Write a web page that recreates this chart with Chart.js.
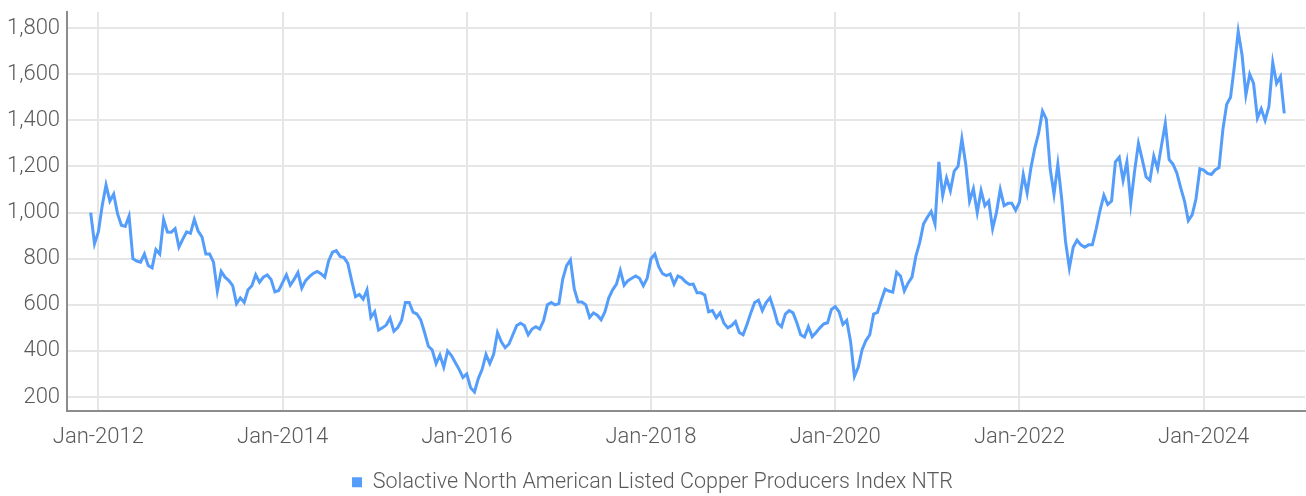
<!DOCTYPE html>
<html>
<head>
<meta charset="utf-8">
<script src="https://cdn.jsdelivr.net/npm/chart.js@4.4.1/dist/chart.umd.min.js"></script>
<style>
  html, body { margin: 0; padding: 0; background: #fff; }
  #wrap { width: 1306px; height: 496px; }
</style>
</head>
<body>
<div id="wrap"><canvas id="chart" width="1306" height="496"></canvas></div>
<script>
// series: one reading every half month, starting 1 Dec 2011
const seriesName = 'Solactive North American Listed Copper Producers Index NTR';
const startYear = 2011;
const startMonth = 12;
const values = [
  1000, 865,                                                                   // 2011
  916, 1030, 1120, 1050, 1080, 995, 945, 940, 985, 800, 790, 785,              // 2012
  820, 770, 760, 840, 820, 970, 916, 915, 930, 850, 885, 916,
  910, 970, 920, 895, 820, 820, 785, 660, 745, 720, 705, 683,                  // 2013
  605, 630, 610, 665, 683, 730, 698, 720, 730, 710, 656, 662,
  696, 730, 685, 710, 740, 672, 705, 722, 736, 745, 735, 720,                  // 2014
  790, 828, 835, 810, 805, 780, 705, 635, 645, 625, 665, 545,
  570, 490, 500, 512, 542, 485, 501, 532, 610, 610, 568, 560,                  // 2015
  535, 480, 420, 404, 345, 382, 330, 400, 380, 350, 320, 285,
  300, 240, 222, 280, 320, 385, 345, 385, 480, 440, 414, 430,                  // 2016
  470, 510, 520, 510, 470, 495, 505, 495, 531, 600, 610, 600,
  605, 712, 770, 795, 669, 612, 612, 600, 545, 565, 555, 535,                  // 2017
  570, 630, 665, 690, 749, 685, 705, 715, 725, 715, 683, 715,
  800, 820, 765, 735, 727, 734, 690, 725, 717, 700, 688, 690,                  // 2018
  652, 652, 643, 570, 575, 544, 565, 520, 500, 510, 527, 480,
  470, 515, 565, 610, 620, 575, 610, 630, 580, 520, 505, 560,                  // 2019
  575, 565, 522, 470, 460, 505, 462, 480, 500, 517, 522, 580,
  592, 570, 515, 532, 440, 290, 330, 405, 445, 470, 560, 567,                  // 2020
  620, 668, 660, 655, 741, 725, 660, 695, 720, 810, 870, 950,
  980, 1005, 950, 1220, 1074, 1150, 1095, 1180, 1200, 1320, 1210, 1050,        // 2021
  1103, 1000, 1095, 1030, 1050, 930, 1000, 1100, 1030, 1040, 1040, 1010,
  1045, 1165, 1085, 1195, 1280, 1345, 1440, 1405, 1190, 1080, 1210, 1060,      // 2022
  875, 760, 850, 880, 860, 850, 860, 860, 930, 1010, 1075, 1035,
  1050, 1220, 1240, 1140, 1220, 1040, 1180, 1300, 1230, 1155, 1140, 1245,      // 2023
  1190, 1290, 1387, 1230, 1210, 1172, 1108, 1050, 965, 990, 1060, 1190,
  1184, 1170, 1165, 1185, 1195, 1360, 1470, 1500, 1635, 1785, 1684, 1510,      // 2024
  1600, 1560, 1410, 1450, 1400, 1460, 1650, 1560, 1590, 1430
];
const xTickYears = [2012, 2014, 2016, 2018, 2020, 2022, 2024];
const yTicks = [200, 400, 600, 800, 1000, 1200, 1400, 1600, 1800];

const fontFamily = 'Roboto, "Noto Sans", sans-serif';
const textColor = '#5a5a5a';
const lineColor = '#559dfa';

const t0 = startYear + (startMonth - 1) / 12;
const points = values.map((v, i) => ({ x: t0 + i / 24, y: v }));

const config = {
  type: 'line',
  data: {
    datasets: [{
      label: seriesName,
      data: points,
      borderColor: lineColor,
      backgroundColor: lineColor,
      borderWidth: 3,
      pointRadius: 0,
      tension: 0
    }]
  },
  options: {
    responsive: false,
    animation: false,
    layout: { padding: { left: 0, right: 1, top: 12, bottom: -7 } },
    scales: {
      x: {
        type: 'linear',
        min: 2011.66,
        max: 2025.1,
        afterBuildTicks: (scale) => { scale.ticks = xTickYears.map(v => ({ value: v })); },
        ticks: {
          callback: (v) => 'Jan-' + v,
          color: textColor,
          font: { family: fontFamily, size: 22, weight: 300 },
          padding: 13,
          maxRotation: 0
        },
        grid: { color: '#e6e6e6', lineWidth: 2, drawTicks: false },
        border: { display: true, color: '#8c8c8c', width: 2 }
      },
      y: {
        min: 139,
        max: 1870,
        afterBuildTicks: (scale) => { scale.ticks = yTicks.map(v => ({ value: v })); },
        // tick labels sit well inside the axis, so no extra room at the ends
        afterFit: (scale) => { scale.paddingTop = 0; scale.paddingBottom = 0; },
        ticks: {
          callback: (v) => v.toLocaleString('en-US'),
          color: textColor,
          font: { family: fontFamily, size: 22, weight: 300 },
          padding: 7
        },
        grid: { color: '#e6e6e6', lineWidth: 2, drawTicks: false },
        border: { display: true, color: '#8c8c8c', width: 2 }
      }
    },
    plugins: {
      legend: {
        position: 'bottom',
        labels: {
          color: textColor,
          font: { family: fontFamily, size: 21.5, weight: 300 },
          boxWidth: 10,
          boxHeight: 10,
          padding: 8,
          generateLabels: (chart) => Chart.defaults.plugins.legend.labels.generateLabels(chart)
            .map(l => Object.assign(l, { lineWidth: 0 }))
        }
      },
      tooltip: { enabled: false }
    }
  }
};

new Chart(document.getElementById('chart').getContext('2d'), config);
</script>
</body>
</html>
